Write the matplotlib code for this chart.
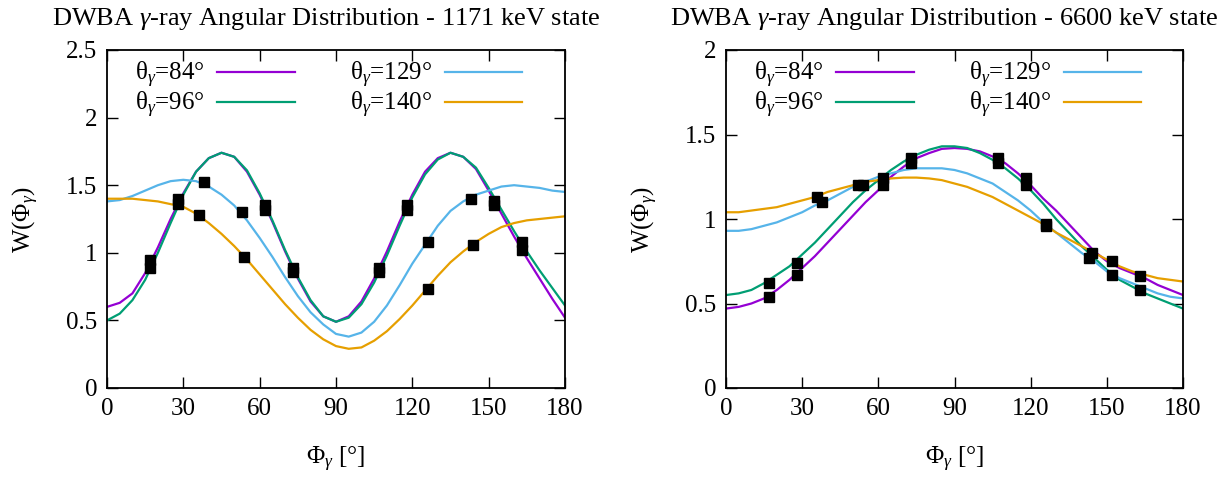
import matplotlib
matplotlib.use("Agg")
import matplotlib.pyplot as plt
import numpy as np

plt.rcParams['font.family'] = ['Liberation Serif', 'DejaVu Serif']
plt.rcParams['mathtext.fontset'] = 'custom'
plt.rcParams['mathtext.rm'] = 'Liberation Serif'
plt.rcParams['mathtext.it'] = 'Liberation Serif:italic'

# curve sample angles (deg) read every 5 degrees
phi = np.arange(0, 181, 5)

# 1171 keV state
w1171_84 = [0.60, 0.63, 0.70, 0.85, 1.04, 1.25, 1.44, 1.60, 1.70, 1.74,
            1.71, 1.60, 1.43, 1.23, 1.01, 0.81, 0.64, 0.53, 0.49, 0.53,
            0.64, 0.81, 1.01, 1.23, 1.43, 1.60, 1.70, 1.74, 1.71, 1.62,
            1.46, 1.29, 1.12, 0.96, 0.81, 0.66, 0.52]
w1171_96 = [0.50, 0.55, 0.65, 0.80, 1.00, 1.22, 1.43, 1.60, 1.70, 1.74,
            1.71, 1.61, 1.44, 1.24, 1.02, 0.82, 0.65, 0.53, 0.49, 0.52,
            0.62, 0.78, 0.98, 1.20, 1.41, 1.58, 1.69, 1.74, 1.71, 1.63,
            1.48, 1.32, 1.16, 1.01, 0.87, 0.74, 0.61]
w1171_129 = [1.38, 1.39, 1.42, 1.46, 1.50, 1.53, 1.54, 1.53, 1.49, 1.43,
             1.35, 1.24, 1.11, 0.97, 0.82, 0.68, 0.56, 0.47, 0.40, 0.38,
             0.41, 0.49, 0.61, 0.76, 0.92, 1.06, 1.20, 1.31, 1.38, 1.43,
             1.46, 1.49, 1.50, 1.49, 1.48, 1.46, 1.45]
w1171_140 = [1.40, 1.40, 1.40, 1.39, 1.38, 1.36, 1.34, 1.29, 1.22, 1.14,
             1.05, 0.95, 0.84, 0.73, 0.62, 0.52, 0.43, 0.36, 0.31, 0.29,
             0.30, 0.35, 0.42, 0.51, 0.61, 0.72, 0.83, 0.93, 1.01, 1.08,
             1.14, 1.19, 1.22, 1.24, 1.25, 1.26, 1.27]
pts1171_phi = [17, 17, 28, 28, 36, 38, 53, 54, 62, 62, 73, 73,
               107, 107, 118, 118, 126, 126, 143, 144, 152, 152, 163, 163]
pts1171_w = [0.95, 0.89, 1.40, 1.36, 1.28, 1.52, 1.30, 0.97, 1.35, 1.32, 0.89, 0.86,
             0.89, 0.86, 1.35, 1.32, 1.08, 0.73, 1.40, 1.06, 1.38, 1.35, 1.08, 1.02]

# 6600 keV state
w6600_84 = [0.47, 0.48, 0.50, 0.53, 0.58, 0.64, 0.71, 0.78, 0.86, 0.94,
            1.02, 1.10, 1.17, 1.25, 1.31, 1.36, 1.39, 1.415, 1.42, 1.415,
            1.40, 1.37, 1.33, 1.27, 1.20, 1.12, 1.05, 0.97, 0.89, 0.81,
            0.75, 0.71, 0.68, 0.65, 0.61, 0.58, 0.55]
w6600_96 = [0.55, 0.56, 0.58, 0.62, 0.67, 0.72, 0.79, 0.86, 0.94, 1.02,
            1.10, 1.17, 1.23, 1.29, 1.34, 1.38, 1.41, 1.43, 1.43, 1.42,
            1.39, 1.35, 1.30, 1.24, 1.17, 1.09, 1.00, 0.92, 0.84, 0.77,
            0.70, 0.64, 0.60, 0.56, 0.53, 0.50, 0.47]
w6600_129 = [0.93, 0.93, 0.94, 0.96, 0.98, 1.01, 1.04, 1.08, 1.11, 1.15,
             1.19, 1.22, 1.25, 1.27, 1.29, 1.30, 1.30, 1.30, 1.29, 1.27,
             1.24, 1.21, 1.16, 1.11, 1.05, 0.98, 0.92, 0.86, 0.80, 0.75,
             0.69, 0.65, 0.62, 0.59, 0.56, 0.54, 0.53]
w6600_140 = [1.04, 1.04, 1.05, 1.06, 1.07, 1.09, 1.11, 1.13, 1.16, 1.18,
             1.20, 1.22, 1.23, 1.24, 1.245, 1.245, 1.24, 1.23, 1.21, 1.19,
             1.16, 1.13, 1.09, 1.05, 1.01, 0.97, 0.92, 0.88, 0.84, 0.80,
             0.76, 0.72, 0.69, 0.67, 0.65, 0.64, 0.63]
pts6600_phi = [17, 17, 28, 28, 36, 38, 52, 54, 62, 62, 73, 73,
               107, 107, 118, 118, 126, 126, 143, 144, 152, 152, 163, 163]
pts6600_w = [0.62, 0.54, 0.74, 0.67, 1.13, 1.10, 1.20, 1.20, 1.24, 1.20, 1.36, 1.33,
             1.36, 1.33, 1.24, 1.20, 0.97, 0.96, 0.77, 0.80, 0.75, 0.67, 0.66, 0.58]

labels = ['θ$_{\\gamma}$=84°', 'θ$_{\\gamma}$=96°', 'θ$_{\\gamma}$=129°', 'θ$_{\\gamma}$=140°']
colors = ['#9400D3', '#009E73', '#56B4E9', '#E69F00']
fs = 18

fig = plt.figure(figsize=(12.29, 4.79), dpi=100)
ax1 = fig.add_axes([107 / 1229, 91 / 479, 458 / 1229, 338 / 479])
ax2 = fig.add_axes([726 / 1229, 91 / 479, 457 / 1229, 338 / 479])

panels = [
    (ax1, [w1171_84, w1171_96, w1171_129, w1171_140], pts1171_phi, pts1171_w,
     '1171', 2.5, ['0', '0.5', '1', '1.5', '2', '2.5']),
    (ax2, [w6600_84, w6600_96, w6600_129, w6600_140], pts6600_phi, pts6600_w,
     '6600', 2.0, ['0', '0.5', '1', '1.5', '2']),
]

for ax, curves, px, pw, state, ymax, ylabs in panels:
    for w, c, lab in zip(curves, colors, labels):
        ax.plot(phi, w, color=c, lw=1.6, label=lab)
    ax.plot(px, pw, ls='none', marker='s', ms=7.5, color='black', zorder=5)
    ax.set_xlim(0, 180)
    ax.set_ylim(0, ymax)
    ax.set_xticks(np.arange(0, 181, 30))
    ax.set_yticks(np.arange(0, ymax + 0.01, 0.5))
    ax.set_yticklabels(ylabs)
    ax.tick_params(direction='in', length=8, width=1, top=True, right=True,
                   labelsize=fs, pad=7)
    for s in ax.spines.values():
        s.set_linewidth(1.3)
    ax.set_xlabel('$\\Phi_{\\gamma}$ [°]', fontsize=fs, labelpad=18)
    ax.set_ylabel('W($\\Phi_{\\gamma}$)', fontsize=fs, labelpad=18)
    ax.set_title('DWBA $\\gamma$-ray Angular Distribution - %s keV state' % state,
                 fontsize=19, x=0.478, pad=18)
    ax.legend(ncol=2, loc='upper left', markerfirst=False, frameon=False,
              fontsize=fs, handlelength=3.1, columnspacing=2.2,
              labelspacing=0.0, handletextpad=0.5,
              borderaxespad=0.0, bbox_to_anchor=(0.04, 1.0))

fig.savefig('out.png', dpi=100)
